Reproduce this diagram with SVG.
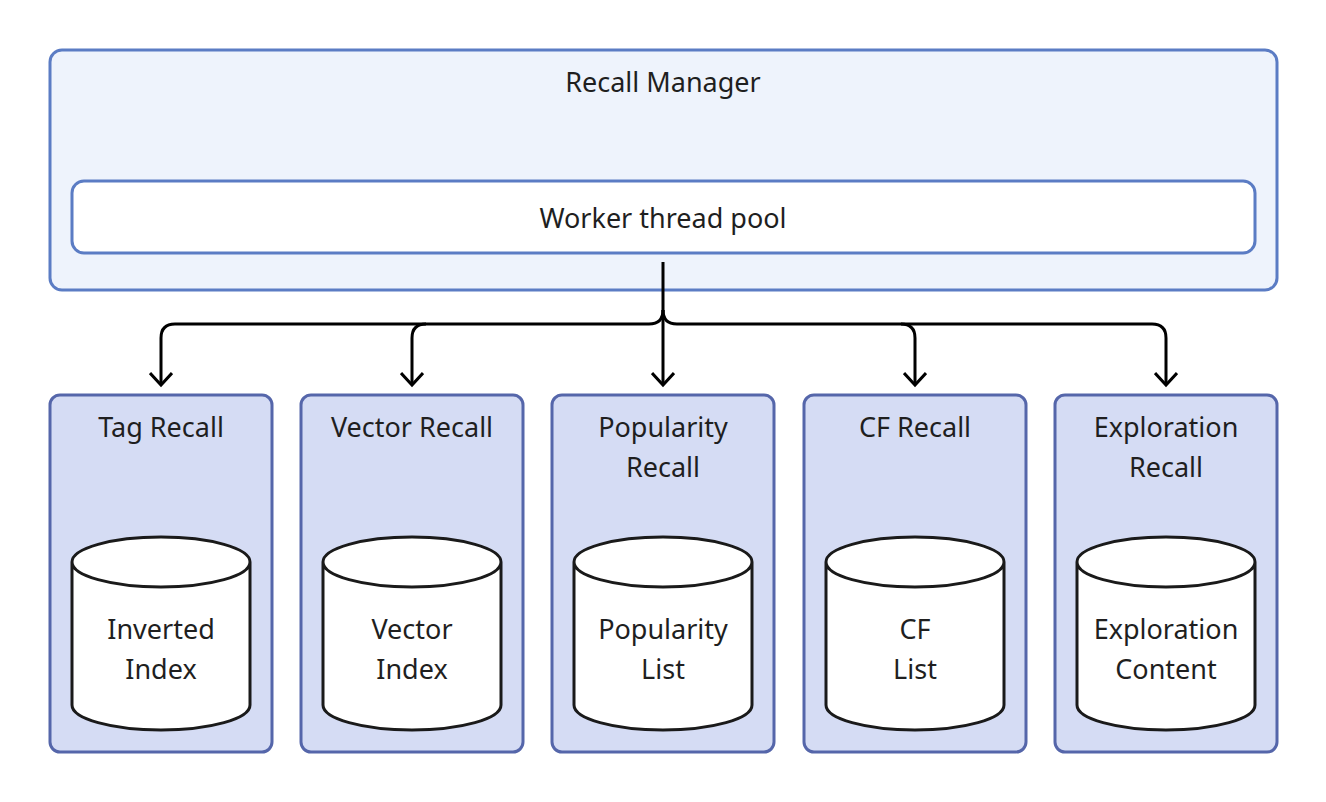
<svg xmlns="http://www.w3.org/2000/svg" width="1326" height="802" viewBox="0 0 1326 802">
<defs>
<style>
text{font-family:"Source Sans Pro","Noto Sans","Liberation Sans",sans-serif;font-size:27px;fill:#1f1f1f;text-anchor:middle}
.outer{fill:#eef3fc;stroke:#5b7cc4;stroke-width:3}
.inner{fill:#fff;stroke:#5b7cc4;stroke-width:3}
.box{fill:#d5dcf4;stroke:#5566aa;stroke-width:3}
.cyl{fill:#fff;stroke:#1a1a1a;stroke-width:3}
.c{fill:none;stroke:#000;stroke-width:3}
</style>
<marker id="a" viewBox="0 0 24 24" refX="20" refY="12" markerWidth="24" markerHeight="24" markerUnits="userSpaceOnUse" orient="auto">
<path d="M8,1 L20,12 L8,23" fill="none" stroke="#000" stroke-width="3"/></marker>
</defs>
<g id="manager"><rect class="outer" x="50" y="50" width="1227" height="240" rx="12"/><text x="663" y="92">Recall Manager</text></g>
<g id="pool"><rect class="inner" x="72" y="181" width="1183" height="72" rx="12"/><text x="663" y="228">Worker thread pool</text></g>
<g id="connectors">
<path class="c" d="M663,262 V310 Q663,324 649,324 H175 Q161,324 161,338 V385" marker-end="url(#a)"/>
<path class="c" d="M426,324 Q412,324 412,338 V385" marker-end="url(#a)"/>
<path class="c" d="M663,310 V385" marker-end="url(#a)"/>
<path class="c" d="M663,310 Q663,324 677,324 H1152 Q1166,324 1166,338 V385" marker-end="url(#a)"/>
<path class="c" d="M901,324 Q915,324 915,338 V385" marker-end="url(#a)"/>
</g>
<g id="tag"><rect class="box" x="50" y="395" width="222" height="357" rx="10"/><text x="161" y="437">Tag Recall</text>
<path class="cyl" d="M72,562 V705 A89,25 0 0 0 250,705 V562 A89,25 0 0 0 72,562 A89,25 0 0 0 250,562"/><text x="161" y="639">Inverted</text><text x="161" y="679">Index</text></g>
<g id="vector"><rect class="box" x="301" y="395" width="222" height="357" rx="10"/><text x="412" y="437">Vector Recall</text>
<path class="cyl" d="M323,562 V705 A89,25 0 0 0 501,705 V562 A89,25 0 0 0 323,562 A89,25 0 0 0 501,562"/><text x="412" y="639">Vector</text><text x="412" y="679">Index</text></g>
<g id="popularity"><rect class="box" x="552" y="395" width="222" height="357" rx="10"/><text x="663" y="437">Popularity</text><text x="663" y="477">Recall</text>
<path class="cyl" d="M574,562 V705 A89,25 0 0 0 752,705 V562 A89,25 0 0 0 574,562 A89,25 0 0 0 752,562"/><text x="663" y="639">Popularity</text><text x="663" y="679">List</text></g>
<g id="cf"><rect class="box" x="804" y="395" width="222" height="357" rx="10"/><text x="915" y="437">CF Recall</text>
<path class="cyl" d="M826,562 V705 A89,25 0 0 0 1004,705 V562 A89,25 0 0 0 826,562 A89,25 0 0 0 1004,562"/><text x="915" y="639">CF</text><text x="915" y="679">List</text></g>
<g id="exploration"><rect class="box" x="1055" y="395" width="222" height="357" rx="10"/><text x="1166" y="437">Exploration</text><text x="1166" y="477">Recall</text>
<path class="cyl" d="M1077,562 V705 A89,25 0 0 0 1255,705 V562 A89,25 0 0 0 1077,562 A89,25 0 0 0 1255,562"/><text x="1166" y="639">Exploration</text><text x="1166" y="679">Content</text></g>
</svg>
